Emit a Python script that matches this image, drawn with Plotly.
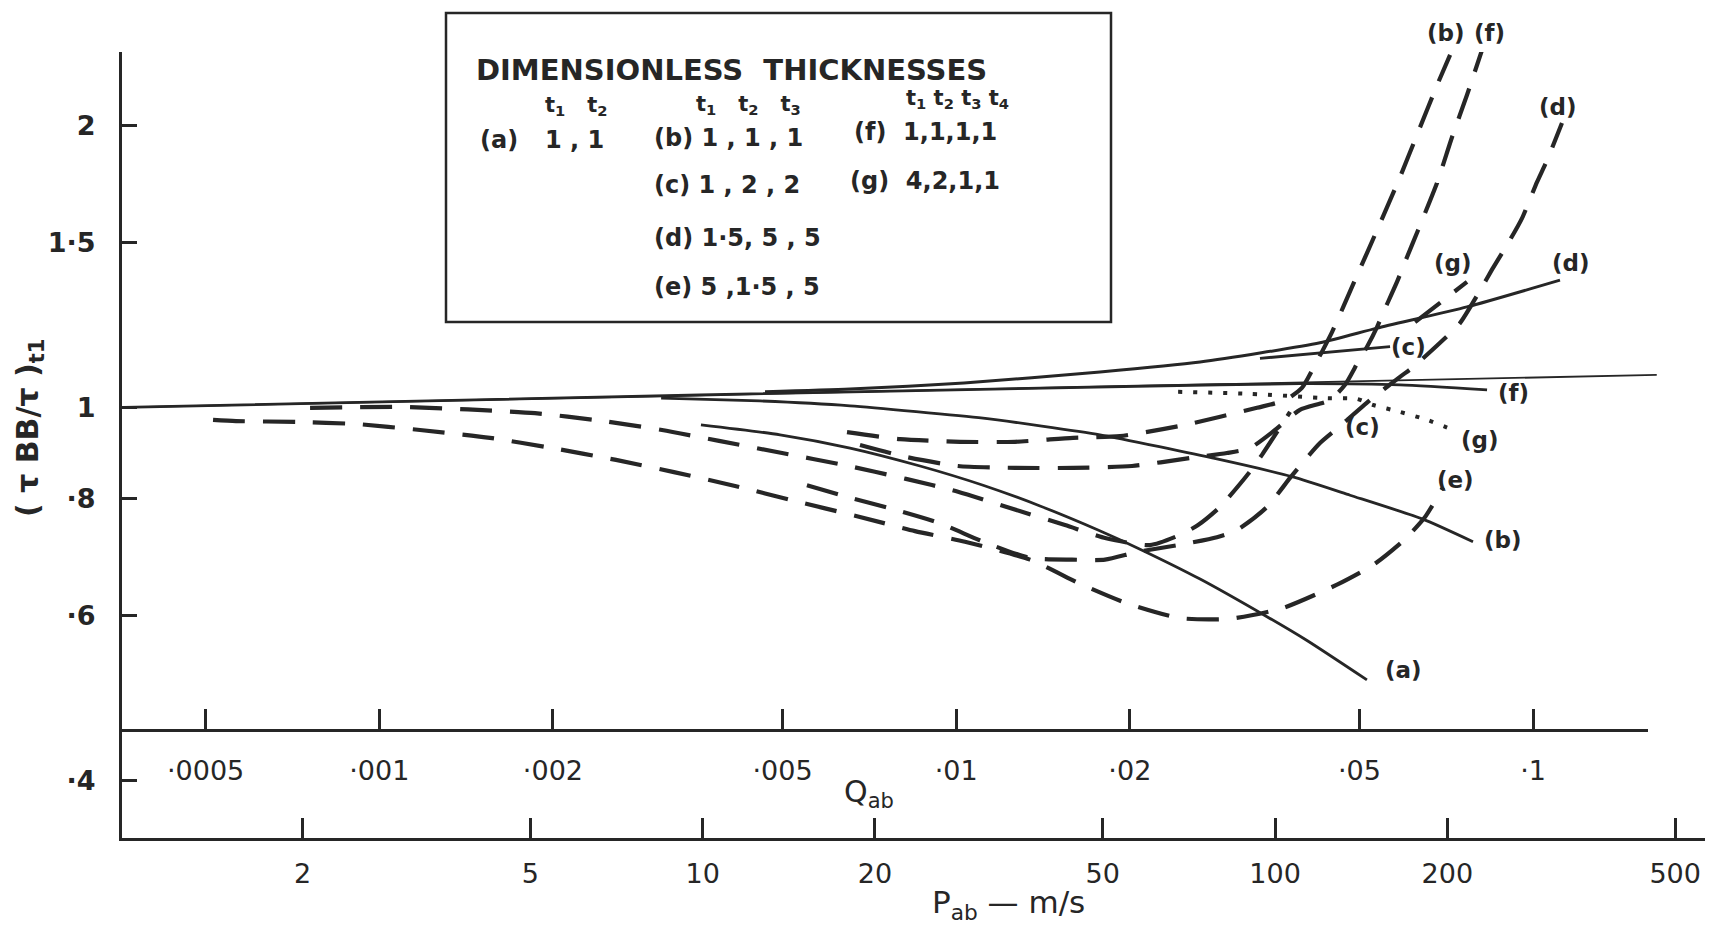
import plotly.graph_objects as go

# ---------------- data ----------------
# x values are P_ab (m/s), y values are (tau_BB / tau)_t1
P_ticks = [2, 5, 10, 20, 50, 100, 200, 500]
P_labels = ["2", "5", "10", "20", "50", "100", "200", "500"]
Q_ticks = [0.0005, 0.001, 0.002, 0.005, 0.01, 0.02, 0.05, 0.1]
Q_labels = ["·0005", "·001", "·002", "·005", "·01", "·02", "·05", "·1"]
Y_ticks = [0.4, 0.6, 0.8, 1.0, 1.5, 2.0]
Y_labels = ["·4", "·6", "·8", "1", "1·5", "2"]

ref_P = [0.975, 464.3]
ref_v = [1.0, 1.083]

# solid curves
a_P = [9.93, 13.65, 18.09, 23.97, 30.89, 38.84, 49.05, 58.08, 73.96, 96.8, 113.7, 144.7]
a_v = [0.958, 0.935, 0.905, 0.866, 0.826, 0.785, 0.740, 0.706, 0.656, 0.598, 0.564, 0.512]
b_P = [8.46, 12.59, 18.09, 30.89, 49.45, 79.14, 107.5, 135.2, 181.3, 221.7]
b_v = [1.023, 1.016, 1.004, 0.974, 0.935, 0.881, 0.843, 0.806, 0.760, 0.719]
d_P = [12.85, 18.09, 28.61, 49.45, 73.96, 119.8, 150.7, 216.4, 314.6]
d_v = [1.039, 1.046, 1.062, 1.091, 1.118, 1.172, 1.215, 1.280, 1.367]
c_P = [94.1, 158.8]
c_v = [1.128, 1.161]
f_P = [0.975, 9.89, 60.45, 110.5, 165.3, 234.6]
f_v = [1.0, 1.031, 1.054, 1.060, 1.057, 1.044]

# dotted curve (g)
g_P = [67.7, 90.4, 123.2, 139.0, 148.3, 165.3, 184.2, 204.6]
g_v = [1.039, 1.034, 1.023, 1.021, 1.006, 0.989, 0.970, 0.946]

# dashed curves
bd_P = [17.87, 22.12, 28.16, 35.13, 44.36, 53.59, 69.59, 92.98, 104.1, 111.4, 117.4,
        125.8, 137.9, 151.3, 165.3, 177.8, 192.6, 202.2]
bd_v = [0.941, 0.925, 0.919, 0.919, 0.928, 0.932, 0.958, 0.999, 1.018, 1.049, 1.110,
        1.204, 1.367, 1.554, 1.761, 1.967, 2.219, 2.377]
fd_P = [18.83, 22.75, 27.93, 35.13, 44.36, 56.24, 71.03, 82.41, 90.40, 99.97, 110.5, 124.7,
        132.5, 139.6, 144.7, 150.7, 154.4, 163.3, 168.7, 177.8, 191.8, 203.8, 216.4, 229.9]
fd_v = [0.912, 0.885, 0.866, 0.862, 0.862, 0.866, 0.883, 0.894, 0.905, 0.946, 0.994, 1.018,
        1.057, 1.118, 1.160, 1.218, 1.261, 1.361, 1.430, 1.546, 1.735, 1.943, 2.154, 2.406]
cd_P = [2.061, 3.007, 3.890, 5.094, 6.616, 8.491, 10.68, 13.76, 17.66, 22.66, 27.93, 34.43,
        42.95, 50.66, 60.45, 68.21, 73.36, 80.13, 89.70, 94.87, 106.2]
cd_v = [0.999, 1.001, 0.995, 0.986, 0.968, 0.946, 0.921, 0.894, 0.868, 0.839, 0.813, 0.781,
        0.749, 0.725, 0.713, 0.731, 0.749, 0.783, 0.849, 0.890, 0.989]
dd_P = [15.21, 17.44, 21.16, 25.87, 30.89, 37.30, 44.18, 50.46, 57.38, 67.67, 79.14, 85.81,
        96.8, 106.2, 112.8, 119.8, 128.8, 146.5, 165.3, 174.2, 196.5, 210.4, 229.9, 240.3,
        257.3, 270.1, 286.9, 298.7, 317.1]
dd_v = [0.826, 0.806, 0.781, 0.753, 0.719, 0.691, 0.688, 0.688, 0.701, 0.713, 0.727, 0.740,
        0.783, 0.841, 0.879, 0.916, 0.951, 1.018, 1.078, 1.104, 1.180, 1.230, 1.344, 1.409,
        1.509, 1.592, 1.740, 1.836, 2.011]
e_P = [1.395, 1.530, 1.948, 2.480, 3.208, 4.250, 5.455, 7.056, 8.908, 11.44, 14.44, 18.53,
       23.49, 28.72, 37.30, 45.98, 54.70, 68.21, 83.42, 103.2, 128.3, 148.3, 168.0, 182.8, 196.5]
e_v = [0.970, 0.967, 0.965, 0.960, 0.946, 0.928, 0.905, 0.879, 0.853, 0.824, 0.795, 0.766,
       0.738, 0.719, 0.688, 0.647, 0.619, 0.596, 0.595, 0.611, 0.647, 0.679, 0.722, 0.764, 0.822]
gd_P = [175.6, 216.4]
gd_v = [1.233, 1.361]

# ---------------- styling / layout ----------------
INK = "#262626"
FONT = "DejaVu Sans"
W, H = 1717, 929
L, R, T, B = 122, 12, 52, 91
PW, PH = W - L - R, H - T - B


def px(x):
    return (x - L) / PW


def py(y):
    return (H - B - y) / PH


fig = go.Figure()

DASH = "32px,18px"


def add(xs, ys, width, dash=None, smooth=0.6):
    fig.add_trace(go.Scatter(
        x=xs, y=ys, mode="lines",
        line=dict(color=INK, width=width, dash=dash, shape="spline", smoothing=smooth),
        hoverinfo="skip", showlegend=False))


add(ref_P, ref_v, 1.8, smooth=0)
add(f_P, f_v, 2.8)
add(a_P, a_v, 2.8)
add(b_P, b_v, 2.8, smooth=0.5)
add(d_P, d_v, 3.0)
add(c_P, c_v, 3.0, smooth=0)
add(g_P, g_v, 4.0, dash="4px,11px")
for xs, ys in [(bd_P, bd_v), (fd_P, fd_v), (cd_P, cd_v), (dd_P, dd_v), (e_P, e_v), (gd_P, gd_v)]:
    add(xs, ys, 4.2, dash=DASH, smooth=0.6)

# empty trace that places the Q_ab axis in the figure
fig.add_trace(go.Scatter(x=[], y=[], xaxis="x2", yaxis="y", mode="lines",
                         showlegend=False, hoverinfo="skip"))

tick_font = dict(family=FONT, size=27, color=INK)
common = dict(showgrid=False, zeroline=False, showline=True, linewidth=3, linecolor=INK,
              ticks="inside", tickwidth=2.5, tickcolor=INK, tickfont=tick_font)

annotations = []


def text(s, x, y, size=24, anchor="center", bold=False, angle=0):
    annotations.append(dict(
        text=s, x=px(x), y=py(y), xref="paper", yref="paper", showarrow=False,
        xanchor=anchor, yanchor="middle", textangle=angle,
        font=dict(family=FONT, size=size, color=INK, weight="bold" if bold else "normal")))


# legend box text
text("DIMENSIONLESS  THICKNESSES", 731, 70, size=29, bold=True)
text("t<sub>1</sub>   t<sub>2</sub>", 576, 106, size=21, bold=True)
text("(a)", 499, 140, bold=True)
text("1 , 1", 574, 140, bold=True)
text("t<sub>1</sub>   t<sub>2</sub>   t<sub>3</sub>", 748, 105, size=21, bold=True)
text("(b) 1 , 1 , 1", 652, 138, anchor="left", bold=True)
text("(c) 1 , 2 , 2", 652, 185, anchor="left", bold=True)
text("(d) 1·5, 5 , 5", 652, 238, anchor="left", bold=True)
text("(e) 5 ,1·5 , 5", 652, 287, anchor="left", bold=True)
text("t<sub>1</sub> t<sub>2</sub> t<sub>3</sub> t<sub>4</sub>", 957, 99, size=21, bold=True)
text("(f)  1,1,1,1", 852, 132, anchor="left", bold=True)
text("(g)  4,2,1,1", 848, 181, anchor="left", bold=True)

# curve labels
for s, x, y in [("(b)", 1446, 33), ("(f)", 1489, 33), ("(d)", 1558, 107), ("(g)", 1453, 263),
                ("(d)", 1571, 263), ("(c)", 1408, 347), ("(f)", 1513, 393), ("(c)", 1362, 427),
                ("(g)", 1480, 440), ("(e)", 1455, 480), ("(b)", 1503, 540), ("(a)", 1403, 670)]:
    text(s, x, y, size=23, bold=True)

# axis titles
text("Q<sub>ab</sub>", 842, 793, size=30, anchor="left")
text("P<sub>ab</sub> — m/s", 930, 904, size=31, anchor="left")
text("( τ BB/τ )<sub>t1</sub>", 30, 428, size=30, angle=-90, bold=True)

shapes = [dict(type="rect", xref="paper", yref="paper",
               x0=px(446), x1=px(1111), y0=py(322), y1=py(13),
               line=dict(color=INK, width=2.5))]

fig.update_layout(
    width=W, height=H,
    margin=dict(l=L, r=R, t=T, b=B, pad=0),
    paper_bgcolor="white", plot_bgcolor="rgba(0,0,0,0)",
    xaxis=dict(type="log", range=[-0.01447, 2.75108], domain=[0, 1], anchor="y",
               tickvals=P_ticks, ticktext=P_labels, ticklen=20, ticklabelstandoff=10, **common),
    xaxis2=dict(type="log", range=[-3.44594, -0.80077], domain=[0, 0.964], anchor="free",
                position=0.1374, side="bottom", tickvals=Q_ticks, ticktext=Q_labels,
                ticklen=20, ticklabelstandoff=16, **common),
    yaxis=dict(type="log", range=[-0.45935, 0.37914], domain=[0, 1], anchor="x",
               tickvals=Y_ticks, ticktext=Y_labels, ticklen=15, ticklabelstandoff=18,
               **{**common, "tickfont": dict(family=FONT, size=27, color=INK, weight="bold")}),
    annotations=annotations,
    shapes=shapes,
    showlegend=False,
)

fig.write_html("out.html")
